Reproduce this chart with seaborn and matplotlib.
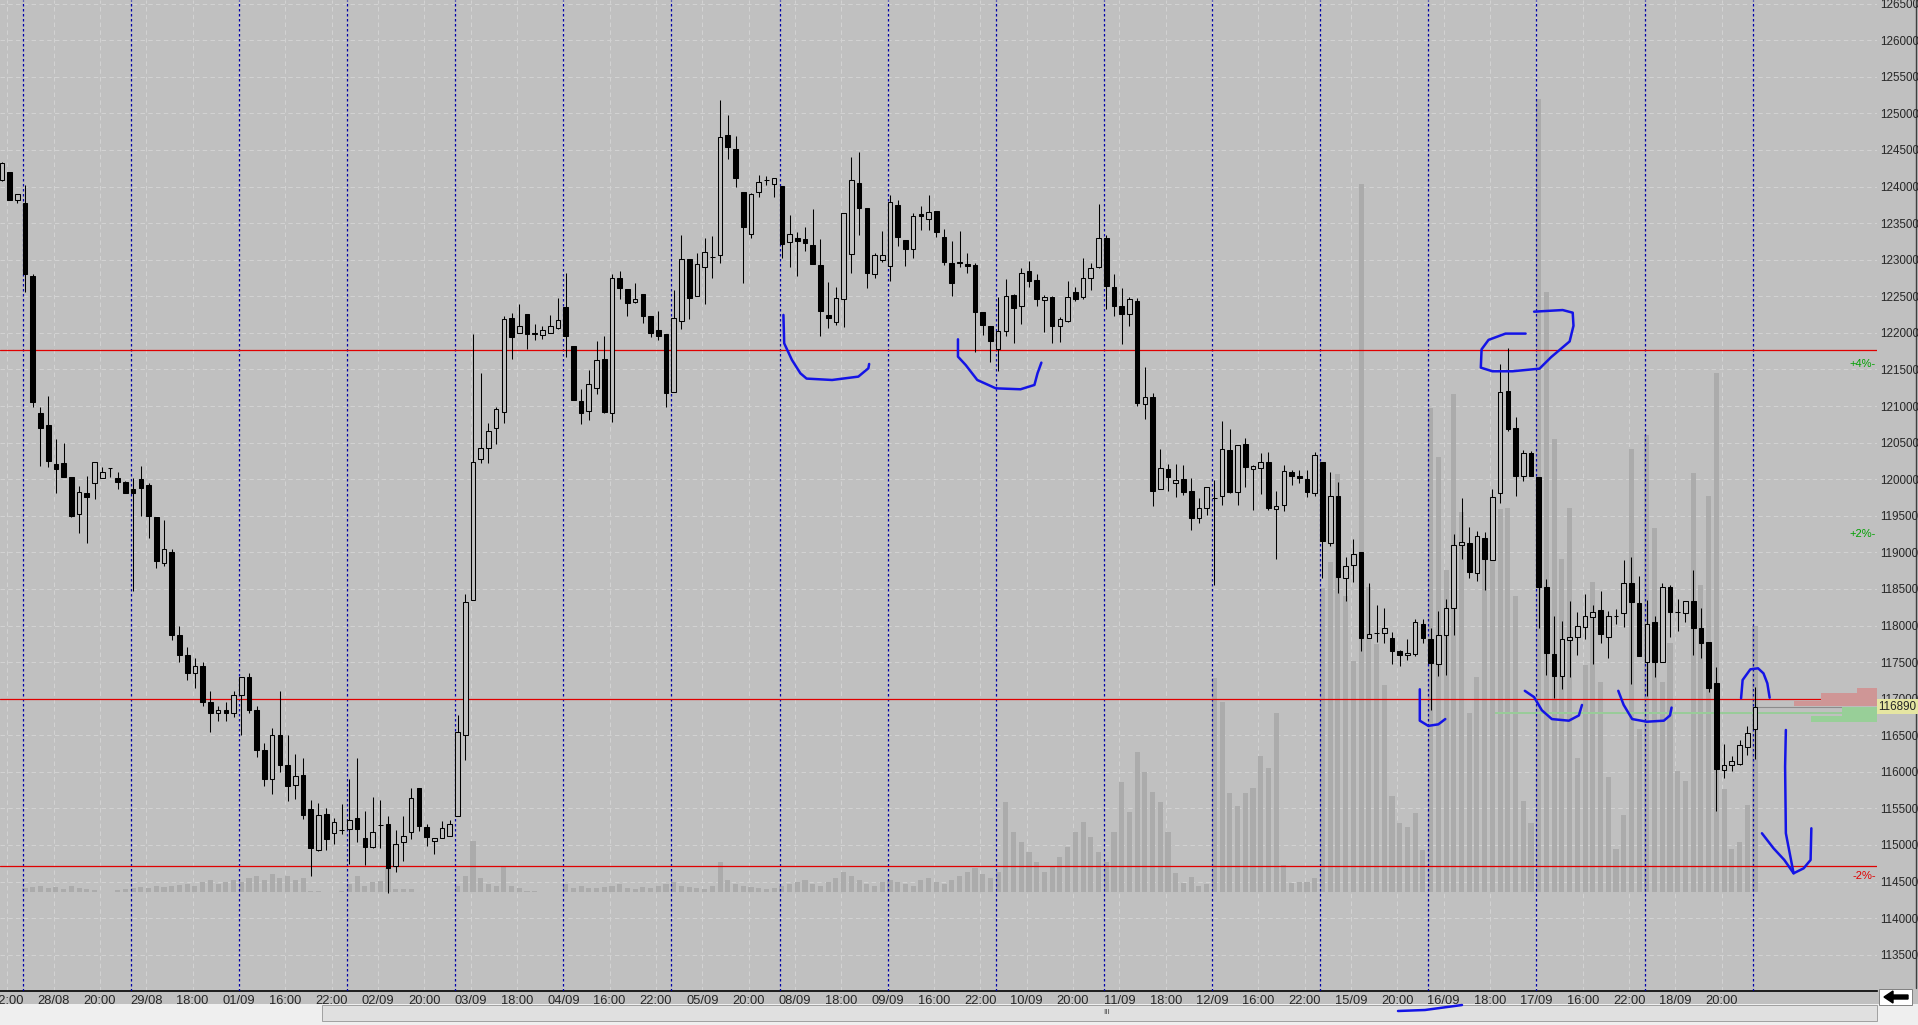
import numpy as np
import matplotlib
matplotlib.use('Agg')
import matplotlib.pyplot as plt
import seaborn as sns
from matplotlib.lines import Line2D
from matplotlib.patches import Rectangle, Polygon

# ---- data: one bar per index ----
opens = [124090, 124195, 123810, 123775, 122780, 120900, 120735, 120210, 120215, 120025,
         119520, 119805, 119945, 120020, 120150, 120010, 119960, 119865, 120000, 119920,
         119480, 118850, 119000, 117870, 117600, 117350, 117450, 116950, 116800, 116850,
         116800, 117050, 117300, 116850, 116300, 115900, 116500, 116100, 115815, 115955,
         115485, 114935, 115430, 115165, 115210, 115220, 115375, 115090, 114975, 115270,
         115290, 114710, 115035, 115175, 115780, 115250, 115050, 115095, 115120, 115400,
         116510, 118350, 120270, 120430, 120695, 120920, 122200, 122000, 122255, 122000,
         121970, 122000, 122070, 122350, 121815, 121065, 120930, 121250, 121645, 120910,
         122745, 122595, 122425, 122525, 122230, 122040, 121980, 121185, 122165, 123005,
         122510, 122895, 123035, 123065, 124705, 124510, 123920, 123345, 123920, 124090,
         124035, 124010, 123245, 123290, 123285, 123200, 122930, 122245, 122155, 122460,
         123075, 124045, 123705, 122805, 122995, 122920, 123750, 123265, 123140, 123625,
         123550, 123665, 123310, 122950, 122975, 122935, 122930, 122280, 122095, 121775,
         122030, 122515, 122370, 122845, 122725, 122450, 122485, 122095, 122165, 122555,
         122485, 122745, 122905, 123295, 122625, 122370, 122255, 122440, 121025, 121120,
         119860, 120135, 119945, 120000, 119845, 119475, 119610, 119740, 119775, 120405,
         119825, 120475, 120145, 120150, 120240, 119595, 119650, 120095, 120040, 120000,
         119810, 120240, 119130, 119775, 118650, 118830, 119000, 117830, 117895, 117900,
         117830, 117645, 117595, 117615, 118020, 117810, 117470, 117865, 118235, 119095,
         119130, 118715, 119200, 118900, 119810, 121205, 120705, 120040, 120360, 120025,
         118525, 117615, 117305, 117795, 117845, 117985, 118115, 118215, 117845, 118130,
         118165, 118575, 118310, 117505, 118045, 117505, 118525, 118185, 118165, 118330,
         117970, 117770, 117220, 116020, 116090, 116105, 116340, 116590]
highs = [124340, 124200, 123900, 124025, 122800, 120985, 121140, 120550, 120490, 120030,
         119905, 120045, 120230, 120165, 120150, 120105, 119980, 120010, 120180, 119945,
         119480, 119445, 119050, 118000, 117700, 117550, 117500, 117100, 116900, 116950,
         117100, 117300, 117350, 116900, 116400, 116600, 117100, 116500, 116250, 116195,
         115615, 115570, 115505, 115375, 115560, 115895, 116185, 115460, 115660, 115615,
         115390, 115205, 115400, 115780, 115780, 115290, 115095, 115330, 115340, 116770,
         118425, 121985, 121445, 120770, 120990, 122225, 122265, 122395, 122255, 122125,
         122095, 122245, 122470, 122825, 121815, 121235, 121490, 121890, 121955, 122800,
         122845, 122595, 122685, 122525, 122230, 122300, 121980, 122585, 123340, 123005,
         123085, 123290, 123325, 125185, 124980, 124690, 123920, 123910, 124160, 124145,
         124115, 124010, 123610, 123385, 123450, 123695, 123285, 122690, 122630, 123635,
         124410, 124475, 123705, 123085, 123395, 123885, 123815, 123265, 123635, 123735,
         123885, 123665, 123415, 123255, 123395, 123090, 122950, 122280, 122095, 122495,
         122735, 122530, 122885, 122985, 122800, 122520, 122510, 122215, 122710, 122630,
         123030, 122950, 123760, 123340, 122800, 122610, 122495, 122475, 121530, 121175,
         120410, 120205, 120205, 120190, 120010, 119740, 119900, 119990, 120790, 120690,
         120465, 120560, 120200, 120360, 120365, 119845, 120200, 120130, 120130, 120130,
         120365, 120240, 120095, 119965, 118935, 119180, 119000, 118580, 118285, 118235,
         117915, 117665, 117820, 118095, 118095, 117970, 118200, 118365, 119250, 119740,
         119345, 119295, 119275, 119860, 121575, 121795, 120845, 120395, 120380, 120025,
         118630, 118130, 118060, 118330, 118180, 118430, 118285, 118470, 118200, 118220,
         118900, 118935, 118680, 118345, 118130, 118575, 118560, 118360, 118330, 118760,
         118235, 117770, 117435, 116380, 116220, 116435, 116630, 117165]
lows = [124080, 123815, 123780, 122565, 120990, 120180, 120160, 119815, 120035, 119480,
        119270, 119125, 119725, 120010, 120035, 119865, 119815, 118475, 119490, 119190,
        118780, 118820, 117800, 117500, 117250, 117150, 116900, 116550, 116700, 116700,
        116750, 116500, 116800, 116200, 115800, 115700, 116000, 115600, 115630, 115360,
        114580, 114920, 114925, 115010, 115145, 114740, 115040, 114725, 114965, 114965,
        114350, 114635, 114785, 115080, 115190, 114980, 114880, 115095, 115120, 115400,
        116165, 118350, 120225, 120215, 120485, 120765, 121645, 122000, 121785, 121900,
        121915, 122000, 122055, 121670, 121080, 120750, 120810, 121165, 120910, 120785,
        122460, 122230, 122415, 122140, 121950, 121905, 120990, 121185, 122055, 122190,
        122510, 122390, 122755, 122950, 124370, 124000, 122675, 123300, 123860, 124020,
        123860, 123030, 122905, 122780, 123125, 122935, 121960, 122060, 122110, 122085,
        122815, 123340, 122620, 122755, 122975, 122715, 123190, 122920, 123030, 123405,
        123405, 123305, 122930, 122510, 122895, 122825, 121745, 121970, 121595, 121485,
        121960, 121865, 122115, 122625, 122370, 122015, 121855, 121870, 122155, 122440,
        122460, 122585, 122885, 122325, 122235, 121850, 122100, 121000, 120820, 119640,
        119860, 119845, 119750, 119790, 119310, 119400, 119510, 118560, 119645, 119810,
        119650, 119900, 119580, 119795, 119575, 118915, 119560, 119915, 119950, 119760,
        119775, 118645, 119080, 118450, 118330, 118595, 117650, 117830, 117770, 117755,
        117470, 117450, 117535, 117580, 117755, 116840, 117305, 117330, 117865, 118915,
        118645, 118615, 118485, 118900, 119680, 120665, 119775, 119975, 120040, 117970,
        117320, 117005, 117130, 117295, 117595, 117810, 117470, 117755, 117555, 118020,
        117985, 117200, 117580, 117035, 117295, 117505, 117845, 117930, 118045, 117595,
        117555, 117095, 115465, 115915, 116005, 116090, 116235, 116180]
closes = [124325, 123820, 123900, 122800, 121060, 120705, 120255, 120135, 120035, 119490,
          119820, 119760, 120230, 120105, 120150, 119965, 119815, 119815, 119875, 119490,
          118885, 119045, 117870, 117600, 117350, 117450, 116950, 116800, 116850, 116800,
          117050, 117300, 116850, 116300, 115900, 116500, 116100, 115800, 115945, 115405,
          114955, 115405, 115080, 115315, 115210, 115340, 115220, 114975, 115175, 115270,
          114690, 115010, 115125, 115645, 115265, 115105, 115095, 115230, 115280, 116540,
          118325, 120230, 120430, 120665, 120960, 122195, 121945, 122100, 121985, 121990,
          122040, 122100, 122170, 121955, 121080, 120910, 121295, 121630, 120925, 122745,
          122610, 122415, 122460, 122235, 122005, 121960, 121175, 122200, 123005, 122480,
          122940, 123110, 123035, 124680, 124535, 124115, 123450, 123895, 124065, 124090,
          124115, 123210, 123345, 123260, 123225, 122935, 122305, 122200, 122470, 123635,
          124090, 123710, 122825, 123065, 123060, 123785, 123305, 123140, 123600, 123595,
          123650, 123385, 122975, 122685, 122950, 122920, 122290, 122110, 121895, 122030,
          122510, 122345, 122815, 122715, 122460, 122485, 122100, 122185, 122485, 122460,
          122745, 122885, 123295, 122645, 122370, 122260, 122460, 121045, 121120, 119845,
          120150, 120035, 119990, 119830, 119475, 119610, 119900, 119740, 120415, 119830,
          120465, 120165, 120180, 120230, 119610, 119630, 120110, 120045, 120020, 119830,
          120330, 119150, 119775, 118665, 118810, 118975, 117830, 117880, 117895, 117965,
          117650, 117595, 117630, 118045, 117830, 117485, 117865, 118235, 119095, 119145,
          118735, 119225, 118915, 119760, 121190, 120690, 120045, 120360, 120040, 118525,
          117630, 117305, 117810, 117845, 118000, 118130, 118185, 117880, 118130, 118130,
          118575, 118320, 117580, 118020, 117505, 118525, 118185, 118185, 118330, 117970,
          117755, 117150, 116035, 116090, 116150, 116365, 116535, 116890]
volume = [0, 0, 0, 4, 5, 6, 4, 5, 3, 6, 4, 3, 2, 0, 0, 2, 3, 4, 5, 4, 6, 5,
          6, 7, 8, 6, 10, 12, 8, 10, 12, 10, 14, 16, 12, 18, 14, 16,
          12, 14, 1, 1, 0, 0, 1, 8, 16, 6, 10, 11, 24, 3, 3, 3, 0, 0, 0, 0, 0, 6,
          16, 51, 14, 8, 6, 25, 6, 4, 1, 1, 0, 0, 0, 8, 4, 6, 4,
          4, 5, 6, 8, 4, 3, 5, 4, 6, 8, 10, 6, 5, 4, 3, 6,
          30, 12, 8, 6, 5, 4, 3, 4,
          6, 8, 10, 12, 8, 6, 10, 14, 20, 16, 12, 8, 6, 10, 12,
          10, 8, 6, 12, 14, 10, 8, 12, 16, 20, 24, 18, 14,
          20, 90, 60, 50, 40, 30, 20, 25, 35, 45, 60, 70, 55, 40,
          30, 60, 110, 80, 140, 120, 100, 90, 60,
          19, 9, 15, 6, 8, 214, 190, 99, 86, 99, 104, 136, 124, 179, 27, 9, 10, 10, 14,
          304, 330, 418, 296, 231, 708, 305, 248, 207, 96, 69, 65, 79, 42, 484, 435, 322, 498, 380, 179,
          215, 333, 393, 383, 384, 296, 91, 69, 793, 600, 453, 333, 384, 134, 227, 310, 210, 115,
          43, 77, 443, 163, 457, 364, 210, 249, 121, 111, 419, 307, 396, 519, 103, 43, 50, 87, 266]

tick_labels = ['22:00', '28/08', '20:00', '29/08', '18:00', '01/09', '16:00', '22:00', '02/09',
               '20:00', '03/09', '18:00', '04/09', '16:00', '22:00', '05/09', '20:00', '08/09',
               '18:00', '09/09', '16:00', '22:00', '10/09', '20:00', '11/09', '18:00', '12/09',
               '16:00', '22:00', '15/09', '20:00', '16/09', '18:00', '17/09', '16:00', '22:00',
               '18/09', '20:00']
session_starts = list(range(3, 228, 14))      # first bar after each blue separator
ref_lines = [121770, 116990, 114715]          # red levels
pct_labels = [('+4%-', 121570, '#00A000'), ('+2%-', 119245, '#00A000'), ('-2%-', 114580, '#E00000')]
last_price = 116890
green_level = 116810
# small order book profile at the right edge: (top, bottom, length in bars)
book_red = [(117140, 117080, 2.6), (117080, 116965, 7.3), (116965, 116905, 10.8)]
book_green = [(116880, 116765, 4.5), (116765, 116680, 8.5)]

# blue hand-drawn marks (bar index, price)
marks = [
    [(101.2, 122245), (101.3, 121857), (102.3, 121630), (103.4, 121447), (104.2, 121375),
     (107.5, 121356), (110.9, 121402), (112.2, 121516), (112.3, 121575)],
    [(123.8, 121912), (123.8, 121675), (124.8, 121561), (126.3, 121356), (128.7, 121242),
     (131.9, 121229), (133.7, 121288), (134.1, 121447), (134.6, 121593)],
    [(183.6, 117128), (183.6, 116699), (184.7, 116628), (186.0, 116649), (186.9, 116721)],
    [(197.3, 121990), (194.7, 121990), (192.5, 121904), (191.6, 121775), (191.5, 121525),
     (193.0, 121475), (195.6, 121475), (199.1, 121511), (200.6, 121668), (203.0, 121883),
     (203.5, 122097), (203.4, 122276), (202.1, 122312), (198.4, 122290)],
    [(197.2, 117107), (198.4, 117021), (199.4, 116842), (200.7, 116721), (202.9, 116699),
     (204.2, 116771), (204.6, 116914)],
    [(209.3, 117107), (210.0, 116914), (211.1, 116721), (213.0, 116685), (215.2, 116699),
     (216.0, 116771), (216.2, 116878)],
    [(225.2, 117005), (225.4, 117255), (226.4, 117401), (227.4, 117415), (228.1, 117346),
     (228.6, 117210), (228.9, 117013)],
    [(231.0, 116572), (230.9, 116070), (231.0, 115160), (232.0, 114613), (233.3, 114681),
     (234.2, 114795), (234.3, 115228)],
    [(227.9, 115160), (229.4, 114955), (230.8, 114795), (232.0, 114613)],
]

BG = '#C0C0C0'
W, H = 1918, 1025

sns.set_style('white', {'axes.facecolor': BG, 'figure.facecolor': BG})
plt.rcParams['font.family'] = ['Liberation Sans', 'DejaVu Sans']

fig = plt.figure(figsize=(W / 100, H / 100), dpi=100)
rect = [0, 34 / H, 1877 / W, 991 / H]
xlim = (-0.24, 242.8)
ylim = (113004, 126550)

# base axes: grid + time labels
ax_g = fig.add_axes(rect)
ax_g.set_facecolor(BG)
ax_g.set_xlim(xlim)
ax_g.set_ylim(ylim)

# volume overlay
ax_v = ax_g.twinx()
idx = np.arange(len(closes))
sns.barplot(x=idx, y=volume, native_scale=True, width=0.66, color='#ABABAB', saturation=1,
            errorbar=None, linewidth=0, ax=ax_v)
ax_v.set_ylim(-99.5, 891.5)
ax_v.set_axis_off()

# price axes on top
ax = ax_g.twinx()
ax.set_ylim(ylim)
ax.patch.set_visible(False)
ax_g.set_zorder(1)
ax_v.set_zorder(2)
ax.set_zorder(3)

ax_g.set_xlim(xlim)
tick_pos = 0.7 + 6 * np.arange(len(tick_labels))
ax_g.set_xticks(tick_pos)
ax_g.set_xticklabels(tick_labels, family=['Liberation Sans Narrow', 'Liberation Sans'], fontsize=9.3)
ax_g.tick_params(axis='x', length=0, pad=3)
yt = np.arange(113500, 126501, 500)
ax_g.set_yticks(yt)
ax_g.tick_params(axis='y', left=False, labelleft=False)
ax_g.grid(True, color='#D2D2D2', linestyle=(0, (4, 3)), linewidth=0.8)
for s in ['top', 'left', 'right']:
    ax_g.spines[s].set_visible(False)
ax_g.spines['bottom'].set_color('black')
ax_g.spines['bottom'].set_linewidth(1.2)

ax.set_yticks(yt)
ax.set_yticklabels([str(v) for v in yt], fontsize=8.4)
ax.tick_params(axis='y', length=0, pad=2)
for s in ax.spines.values():
    s.set_visible(False)

# separators and reference lines
for k in session_starts:
    ax.axvline(k - 0.3, color='#0000A8', linewidth=0.9, linestyle=(0, (2, 2)), zorder=2)
for p in ref_lines:
    ax.axhline(p, color='#E00000', linewidth=0.9, zorder=2)
ax.hlines(green_level, 193.3, xlim[1], color='#98CC98', linewidth=1.4, zorder=2)
ax.hlines(last_price, len(closes) - 1, xlim[1], color='#8C8C8C', linewidth=0.8, zorder=2)

# candles
o = np.array(opens)
c = np.array(closes)
up = c > o
ax.vlines(idx, lows, highs, color='black', linewidth=0.75, zorder=3)
ax.bar(idx, np.abs(c - o), bottom=np.minimum(o, c), width=0.6,
       color=np.where(up, BG, 'black'), edgecolor='black', linewidth=0.75, zorder=4)

# right edge order book
for top, bot, ln in book_red:
    ax.bar(xlim[1] - ln / 2, top - bot, bottom=bot, width=ln, color='#CF9696', linewidth=0, zorder=2)
for top, bot, ln in book_green:
    ax.bar(xlim[1] - ln / 2, top - bot, bottom=bot, width=ln, color='#98CF98', linewidth=0, zorder=2)

# percent tags and current price
ytr = ax.get_yaxis_transform()
for txt, p, col in pct_labels:
    ax.text(0.9995, p, txt, transform=ytr, ha='right', va='center', color=col, fontsize=8)
ax.text(1.0008, last_price, str(last_price), transform=ytr, ha='left', va='center', fontsize=8.4,
        zorder=6, bbox=dict(boxstyle='square,pad=0.12', fc='#E6E6A2', ec='none'))

# hand-drawn marks
for m in marks:
    xs, ys = zip(*m)
    ax.plot(xs, ys, color='#1414E6', linewidth=1.8, solid_capstyle='round', zorder=5)

ax.set_xlim(xlim)


# window chrome (scroll bar, button, border)
def fp(x, y):
    return (x / W, 1 - y / H)


fig.add_artist(Rectangle(fp(0, 1025), 1, 21 / H, transform=fig.transFigure, fc='#EFEFEF', ec='none'))
fig.add_artist(Rectangle(fp(322, 1021), 1555 / W, 16 / H, transform=fig.transFigure,
                         fc='#E0E0E0', ec='#A0A0A0', lw=0.7))
fig.text(1107 / W, 1 - 1013 / H, 'III', fontsize=6, ha='center', va='center', color='#505050')
fig.add_artist(Rectangle(fp(1879, 1005), 33 / W, 16 / H, transform=fig.transFigure,
                         fc='white', ec='#808080', lw=0.7))
fig.add_artist(Polygon([fp(1884, 997), fp(1893, 991), fp(1893, 995), fp(1908, 995),
                        fp(1908, 999), fp(1893, 999), fp(1893, 1003)],
                       closed=True, transform=fig.transFigure, fc='black', ec='black'))
fig.add_artist(Line2D([1915.5 / W, 1915.5 / W], [1 - 988 / H, 1], transform=fig.transFigure,
                      color='#404040', lw=1))
fig.add_artist(Line2D([1398 / W, 1425 / W, 1462 / W], [1 - 1011 / H, 1 - 1010 / H, 1 - 1005 / H],
                      transform=fig.transFigure, color='#1414E6', lw=1.8))

fig.savefig('out.png', dpi=100, facecolor=BG)
